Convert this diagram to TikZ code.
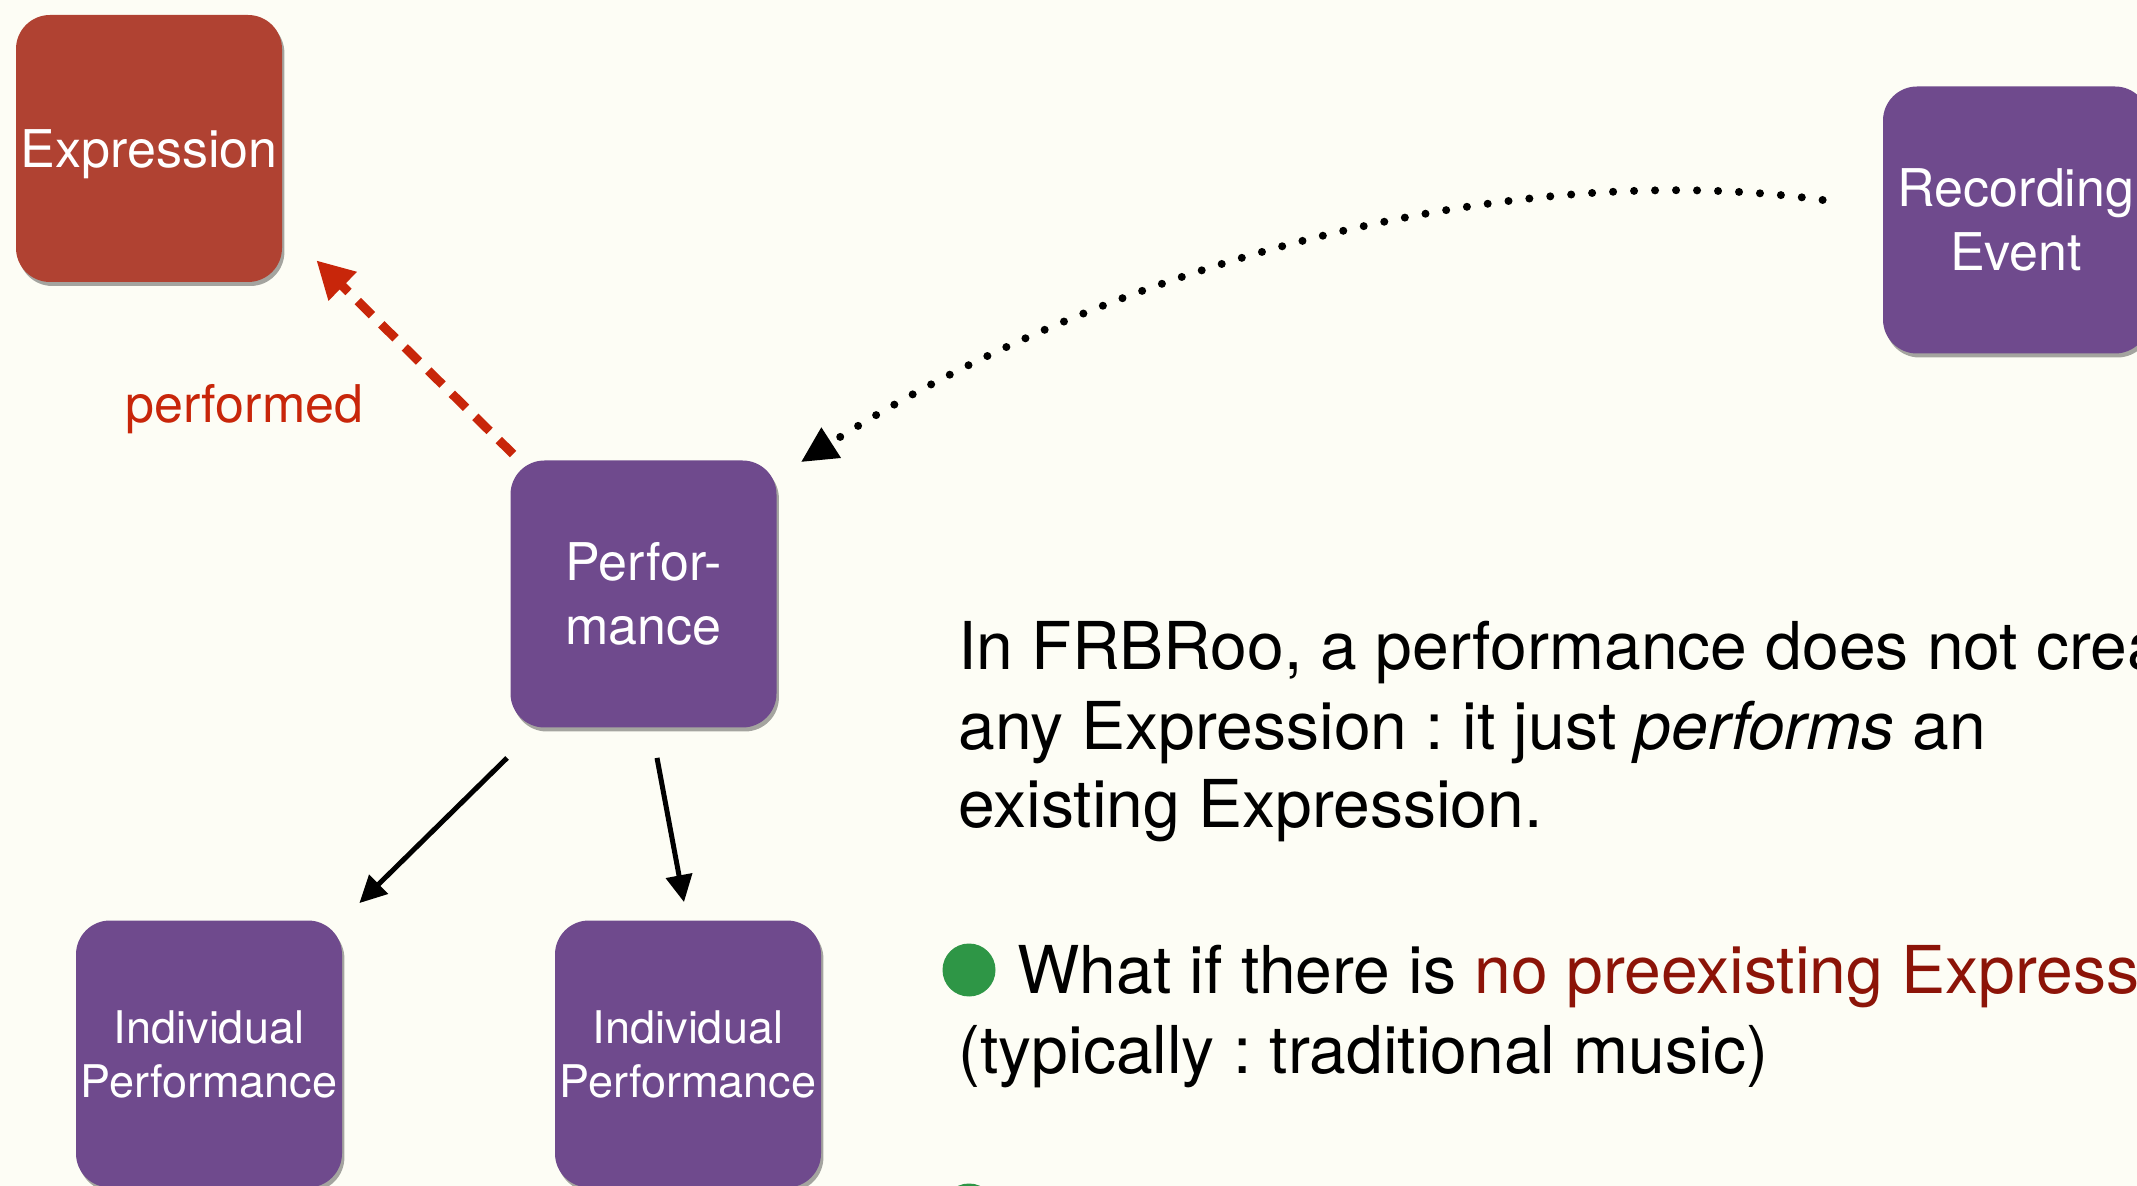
\documentclass[tikz,border=0pt]{standalone}
\usepackage{fontspec}
\setmainfont{TeX Gyre Heros}
\newfontfamily\boxfont{TeX Gyre Heros}
\usetikzlibrary{arrows.meta,shadows,calc}
\definecolor{bg}{RGB}{253,253,245}
\definecolor{exprred}{RGB}{176,66,50}
\definecolor{purp}{RGB}{111,74,141}
\definecolor{arrred}{RGB}{200,38,10}
\definecolor{txtred}{RGB}{140,20,8}
\definecolor{bulgreen}{RGB}{46,150,70}
\frenchspacing
\begin{document}
\begin{tikzpicture}[x=0.5pt,y=-0.5pt,
  box/.style={rounded corners=17pt, minimum width=133pt, minimum height=133.5pt,
    inner sep=0pt, text=white, align=center,
    drop shadow={shadow xshift=1.2pt,shadow yshift=-2pt,opacity=0.35,fill=black}},
  bigtxt/.style={font=\boxfont\fontsize{26}{32}\selectfont},
  smalltxt/.style={font=\boxfont\fontsize{22.5}{27}\selectfont},
  body/.style={font=\fontsize{33}{40}\selectfont, anchor=base west, inner sep=0pt},
  bullet/.style={circle, fill=bulgreen, minimum size=26.5pt, inner sep=0pt},
  blackarrow/.style={black, line width=2.5pt, -{Triangle[length=13.5pt,width=13pt]}},
]
\useasboundingbox (0,0) rectangle (2137,1186);
\fill[bg] (0,0) rectangle (2137,1186);
\clip (0,0) rectangle (2137,1186);

% boxes
\node[box, fill=exprred, bigtxt, text depth=0pt] (exp) at (149,148.5) {Expression};
\node[box, fill=purp, bigtxt] (rec) at (2016,220) {Recording\\Event};
\node[box, fill=purp, bigtxt] (perf) at (643.5,594) {Perfor-\\mance};
\node[box, fill=purp, smalltxt] (ind1) at (209,1054) {Individual\\Performance};
\node[box, fill=purp, smalltxt] (ind2) at (688,1054) {Individual\\Performance};

% label
\node[anchor=base west, inner sep=0pt, text=arrred, font=\fontsize{26}{30}\selectfont] (lbl) at (125,423) {performed};

% connectors
\draw[arrred, line width=4.5pt, dash pattern=on 10pt off 6.5pt,
  -{Triangle[length=18.5pt,width=19pt]}]
  ($(perf.north west)+(3,-6)$) -- ($(exp.south east)+(34,-22)$);
\draw[black, line width=4pt, line cap=round, dash pattern=on 0pt off 10.5pt,
  -{Triangle[length=18pt,width=17pt]}]
  ($(rec.west)+(-60,-20)$) .. controls (1500,155) and (1100,270) .. ($(perf.north east)+(24,2)$);
\draw[blackarrow] ($(perf.south west)+(-3,30)$) -- ($(ind1.north east)+(17,-17)$);
\draw[blackarrow] ($(perf.south)+(13.5,30)$) -- ($(ind2.north)+(-4,-18)$);

% text
\node[body] (p1) at (958,670) {In FRBRoo, a performance does not create};
\node[body] (p2) at (958,750) {any Expression : it just \textit{performs} an};
\node[body] (p3) at (958,828) {existing Expression.};

\node[bullet] (b1) at (969,970) {};
\node[body] (b1t) at (1017,993) {What if there is \textcolor{txtred}{no preexisting Expression}};
\node[body] (b1u) at (958,1073) {(typically : traditional music)};
\node[bullet] (b2) at (969,1210) {};
\end{tikzpicture}
\end{document}
